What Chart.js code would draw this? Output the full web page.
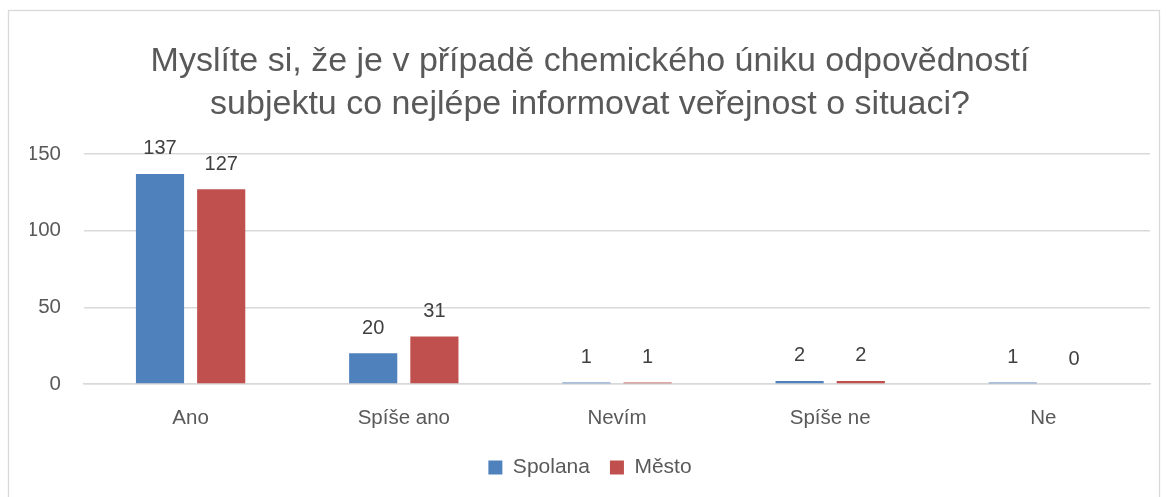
<!DOCTYPE html>
<html><head><meta charset="utf-8">
<script src="https://cdn.jsdelivr.net/npm/chart.js@4"></script>
<style>html,body{margin:0;padding:0;background:#fff}#wrap{width:1169px;height:497px;position:relative}</style>
</head><body><div id="wrap"><canvas id="c" width="1169" height="497"></canvas></div>
<script>
const categories = ["Ano", "Spíše ano", "Nevím", "Spíše ne", "Ne"];
const spolana = [137, 20, 1, 2, 1];
const mesto = [127, 31, 1, 2, 0];
const seriesNames = ["Spolana", "Město"];
const titleLines = ["Myslíte si, že je v případě chemického úniku odpovědností", "subjektu co nejlépe informovat veřejnost o situaci?"];
const FONT = "'Liberation Sans', Arial, sans-serif";

const borderPlugin = {
  id: 'frame',
  beforeDraw(chart) {
    const ctx = chart.ctx;
    ctx.save();
    ctx.fillStyle = '#fff';
    ctx.fillRect(0, 0, chart.width, chart.height);
    ctx.strokeStyle = '#d9d9d9';
    ctx.lineWidth = 1.3;
    ctx.strokeRect(8.5, 10.5, 1151, 500);
    ctx.restore();
  }
};
const labelPlugin = {
  id: 'vals',
  afterDatasetsDraw(chart) {
    const ctx = chart.ctx;
    ctx.save();
    ctx.font = "20px " + FONT;
    ctx.fillStyle = '#404040';
    ctx.textAlign = 'center';
    ctx.textBaseline = 'middle';
    chart.data.datasets.forEach((ds, i) => {
      chart.getDatasetMeta(i).data.forEach((bar, j) => {
        ctx.fillText(String(ds.data[j]), bar.x, bar.y - 25);
      });
    });
    ctx.restore();
  }
};

new Chart(document.getElementById('c'), {
  type: 'bar',
  data: {
    labels: categories,
    datasets: [
      { label: seriesNames[0], data: spolana, backgroundColor: '#4f81bd', borderWidth: 0 },
      { label: seriesNames[1], data: mesto, backgroundColor: '#c0504d', borderWidth: 0 }
    ]
  },
  options: {
    responsive: false,
    animation: false,
    devicePixelRatio: 1,
    layout: { padding: { left: 30, right: 19, top: 10, bottom: 9 } },
    datasets: { bar: { categoryPercentage: 0.574, barPercentage: 0.787 } },
    scales: {
      x: {
        afterFit(scale) { scale.height = 53; },
        grid: { display: false, drawTicks: false },
        border: { display: true, color: '#d9d9d9', width: 1.5 },
        ticks: { color: '#595959', font: { family: FONT, size: 20.5 }, padding: 22 }
      },
      y: {
        min: 0, max: 150,
        afterFit(scale) { scale.width = 54; },
        ticks: { stepSize: 50, color: '#595959', font: { family: FONT, size: 20.5 }, padding: 23 },
        grid: { color: '#d9d9d9', lineWidth: 1.5, drawTicks: false },
        border: { display: false }
      }
    },
    plugins: {
      title: {
        display: true, text: titleLines, color: '#595959',
        font: { family: FONT, size: 34, weight: 'normal', lineHeight: 1.265 },
        padding: { top: 30, bottom: 28 }
      },
      legend: {
        position: 'bottom',
        labels: { color: '#595959', font: { family: FONT, size: 21 }, boxWidth: 14, boxHeight: 14, padding: 20 }
      },
      tooltip: { enabled: false }
    }
  },
  plugins: [borderPlugin, labelPlugin]
});
</script></body></html>
